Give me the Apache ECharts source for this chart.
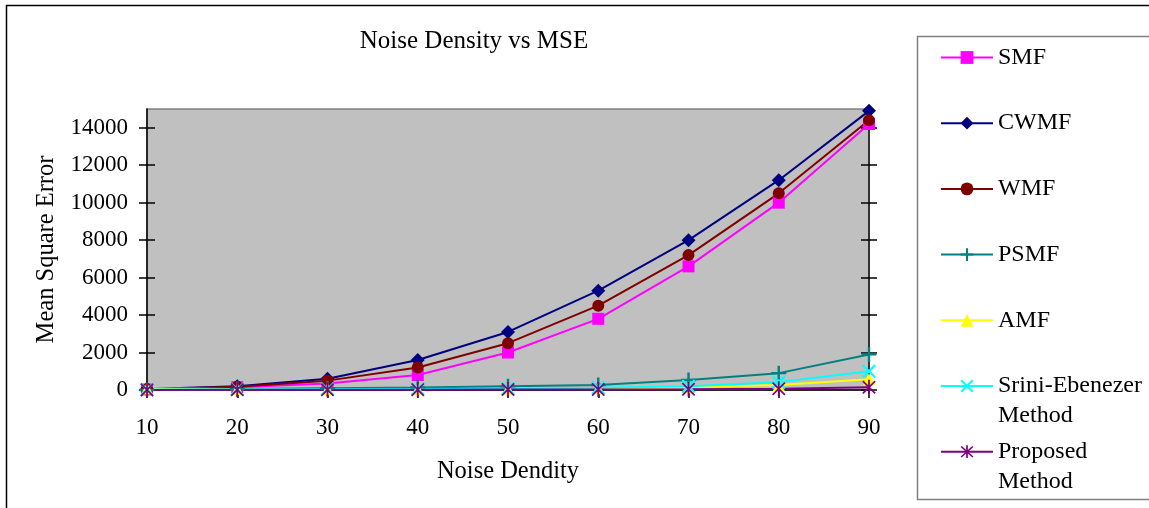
<!DOCTYPE html>
<html>
<head>
<meta charset="utf-8">
<script src="https://cdn.jsdelivr.net/npm/echarts@6/dist/echarts.min.js"></script>
<style>
  html, body { margin: 0; padding: 0; background: #fff; }
  #chart { width: 1149px; height: 508px; }
</style>
</head>
<body>
<div id="chart"></div>
<script>
// --- data ---
const categories = ['10', '20', '30', '40', '50', '60', '70', '80', '90'];
const yTicks = [0, 2000, 4000, 6000, 8000, 10000, 12000, 14000];

const smf      = [30, 150, 350, 800, 2000, 3800, 6600, 10000, 14200];
const cwmf     = [60, 200, 600, 1600, 3100, 5300, 8000, 11200, 14900];
const wmf      = [40, 180, 500, 1200, 2500, 4500, 7200, 10500, 14400];
const psmf     = [0, 50, 100, 140, 200, 270, 530, 900, 1900];
const amf      = [80, 60, 50, 60, 70, 90, 150, 270, 580];
const srini    = [30, 40, 50, 60, 80, 120, 200, 420, 1000];
const proposed = [5, 10, 15, 20, 25, 30, 40, 70, 150];

// --- marker shapes ---
const PLUS = 'path://M4.2,0H5.8V4.2H10V5.8H5.8V10H4.2V5.8H0V4.2H4.2Z';
const CROSS = 'path://M1.1,0L10,8.9L8.9,10L0,1.1Z M8.9,0L10,1.1L1.1,10L0,8.9Z';
const STAR = 'path://M4.4,0H5.6V10H4.4Z M1.3,0.5L9.5,8.7L8.7,9.5L0.5,1.3Z M8.7,0.5L9.5,1.3L1.3,9.5L0.5,8.7Z';

const FONT = "'Liberation Serif', 'Times New Roman', serif";
const LINE_H = 30;

const chart = echarts.init(document.getElementById('chart'), null, { renderer: 'canvas' });

const mkSeries = (name, data, color, symbol, size) => ({
  name: name,
  type: 'line',
  data: data,
  xAxisIndex: 0,
  yAxisIndex: 0,
  symbol: symbol,
  symbolSize: size,
  symbolKeepAspect: true,
  showAllSymbol: true,
  lineStyle: { color: color, width: 2 },
  itemStyle: { color: color },
  emphasis: { disabled: true },
  animation: false
});

// y axis copies: outward ticks + inward ticks on both sides
const yBase = (position, inside, withLine, lineColor, lineWidth) => ({
  type: 'value',
  position: position,
  min: 0,
  max: 15000,
  interval: 2000,
  axisLine: { show: withLine, lineStyle: { color: lineColor, width: lineWidth } },
  axisTick: { show: true, inside: inside, length: 8, customValues: yTicks, lineStyle: { color: '#000', width: 1.5 } },
  axisLabel: { show: false },
  splitLine: { show: false }
});

const yLeft = yBase('left', false, true, '#000', 1.5);
yLeft.axisLabel = {
  show: true,
  customValues: yTicks,
  formatter: v => String(v),
  fontFamily: FONT,
  fontSize: 23,
  color: '#000',
  margin: 19
};
yLeft.name = 'Mean Square Error';
yLeft.nameLocation = 'middle';
yLeft.nameGap = 88;
yLeft.nameTextStyle = { fontFamily: FONT, fontSize: 24.5, color: '#000' };

// legend: single-line labels padded to 3 lines, two-line labels get an empty first line
const singlePad = { padding: [LINE_H, 0, LINE_H, 0] };

const option = {
  backgroundColor: '#fff',
  animation: false,
  title: {
    text: 'Noise Density vs MSE',
    left: 469,
    textAlign: 'center',
    top: 24,
    textStyle: { fontFamily: FONT, fontSize: 25, fontWeight: 'normal', color: '#000' }
  },
  graphic: [
    {
      type: 'rect',
      shape: { x: 6.5, y: 5.5, width: 1200, height: 600 },
      style: { fill: 'none', stroke: '#000', lineWidth: 1.5 },
      silent: true,
      z: -1
    },
    {
      type: 'rect',
      shape: { x: 917.5, y: 36.5, width: 300, height: 463 },
      style: { fill: 'none', stroke: '#808080', lineWidth: 1.5 },
      silent: true,
      z: -1
    }
  ],
  legend: {
    orient: 'vertical',
    left: 940,
    top: 12.5,
    padding: 0,
    itemGap: -24.3,
    itemWidth: 52,
    itemHeight: 16,
    selectedMode: false,
    formatter: name => (name.indexOf('\n') >= 0 ? '\n' + name : name),
    textStyle: { fontFamily: FONT, fontSize: 24, color: '#000', lineHeight: LINE_H },
    data: [
      { name: 'SMF', textStyle: singlePad },
      { name: 'CWMF', textStyle: singlePad },
      { name: 'WMF', textStyle: singlePad },
      { name: 'PSMF', textStyle: singlePad },
      { name: 'AMF', textStyle: singlePad },
      { name: 'Srini-Ebenezer\nMethod' },
      { name: 'Proposed\nMethod' }
    ]
  },
  grid: {
    left: 147,
    right: 280,
    top: 109,
    bottom: 118,
    show: true,
    backgroundColor: '#c0c0c0',
    borderColor: '#808080',
    borderWidth: 1.5
  },
  xAxis: [
    {
      type: 'category',
      data: categories,
      boundaryGap: false,
      axisLine: { lineStyle: { color: '#000', width: 1.5 } },
      axisTick: { show: true, length: 8, lineStyle: { color: '#000', width: 1.5 } },
      axisLabel: { fontFamily: FONT, fontSize: 23, color: '#000', margin: 26 },
      splitLine: { show: false },
      name: 'Noise Dendity',
      nameLocation: 'middle',
      nameGap: 69,
      nameTextStyle: { fontFamily: FONT, fontSize: 24.5, color: '#000' }
    }
  ],
  yAxis: [
    yLeft,
    yBase('left', true, false, '#000', 1.5),
    yBase('right', false, true, '#333', 2),
    yBase('right', true, false, '#333', 2)
  ],
  series: [
    mkSeries('SMF', smf, '#ff00ff', 'rect', 12),
    mkSeries('CWMF', cwmf, '#000080', 'diamond', 14),
    mkSeries('WMF', wmf, '#800000', 'circle', 12),
    mkSeries('PSMF', psmf, '#008080', PLUS, 15),
    mkSeries('AMF', amf, '#ffff00', 'triangle', 12),
    mkSeries('Srini-Ebenezer\nMethod', srini, '#00ffff', CROSS, 14),
    mkSeries('Proposed\nMethod', proposed, '#800080', STAR, 15)
  ]
};

chart.setOption(option);
</script>
</body>
</html>
